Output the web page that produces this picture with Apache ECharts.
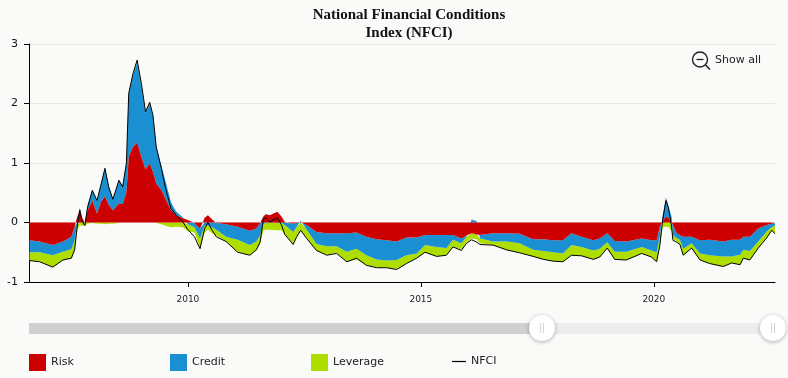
<!DOCTYPE html>
<html><head><meta charset="utf-8">
<style>html,body{margin:0;padding:0;background:#fafaf8}#c{width:788px;height:378px}</style>
<script src="https://cdn.jsdelivr.net/npm/echarts@6/dist/echarts.min.js"></script>
</head><body><div id="c"></div>
<script>
const years=[2006.60,2006.82,2007.10,2007.32,2007.50,2007.57,2007.62,2007.68,2007.73,2007.79,2007.85,2007.95,2008.05,2008.14,2008.22,2008.30,2008.39,2008.52,2008.60,2008.68,2008.73,2008.82,2008.91,2009.00,2009.09,2009.18,2009.25,2009.32,2009.43,2009.53,2009.64,2009.75,2009.89,2010.00,2010.14,2010.26,2010.36,2010.43,2010.52,2010.61,2010.82,2011.07,2011.33,2011.47,2011.55,2011.62,2011.67,2011.76,2011.92,2012.01,2012.08,2012.26,2012.33,2012.42,2012.55,2012.76,2012.98,2013.19,2013.41,2013.62,2013.83,2014.05,2014.26,2014.48,2014.69,2014.91,2015.09,2015.34,2015.55,2015.69,2015.87,2015.98,2016.09,2016.20,2016.27,2016.55,2016.84,2017.12,2017.41,2017.63,2017.84,2018.05,2018.23,2018.45,2018.70,2018.84,2019.00,2019.16,2019.41,2019.74,2019.95,2020.06,2020.13,2020.19,2020.26,2020.31,2020.38,2020.41,2020.49,2020.56,2020.63,2020.81,2020.99,2021.20,2021.49,2021.67,2021.85,2021.92,2022.06,2022.24,2022.42,2022.53,2022.60];
const risk=[-.30,-.32,-.38,-.32,-.24,-.07,.08,.21,.08,-.01,.2,.37,.15,.35,.44,.3,.2,.32,.31,.5,1.1,1.27,1.34,1.1,.89,.99,.85,.65,.54,.38,.2,.12,.07,.04,-.01,-.1,.08,.12,.05,-.01,-.03,-.07,-.14,-.1,-.01,.1,.14,.12,.18,.1,.01,-.02,-.01,.01,-.04,-.16,-.18,-.18,-.18,-.17,-.24,-.28,-.3,-.32,-.25,-.25,-.21,-.21,-.21,-.21,-.27,-.22,-.18,-.2,-.21,-.18,-.18,-.19,-.28,-.28,-.3,-.3,-.18,-.24,-.3,-.27,-.18,-.31,-.32,-.27,-.3,-.3,-.07,.02,.1,.08,.01,-.04,-.18,-.21,-.24,-.24,-.3,-.29,-.32,-.29,-.29,-.24,-.24,-.1,-.04,-.02,-.01];
const credit=[-.2,-.18,-.17,-.17,-.21,-.22,-.05,.04,.01,.01,.1,.18,.21,.3,.47,.32,.19,.39,.3,.5,1.07,1.2,1.35,1.2,.95,1,.95,.62,.42,.28,.13,.06,.02,-.03,-.07,-.17,-.05,-.05,-.08,-.11,-.21,-.22,-.24,-.22,-.21,-.03,-.01,-.01,-.01,-.01,-.04,-.14,-.07,.02,-.08,-.2,-.22,-.22,-.31,-.27,-.31,-.34,-.34,-.31,-.3,-.27,-.17,-.2,-.22,-.08,-.08,-.02,.05,.02,-.06,-.14,-.14,-.16,-.18,-.2,-.2,-.22,-.2,-.17,-.17,-.17,-.15,-.18,-.17,-.14,-.17,-.2,-.17,.1,.32,.2,.09,-.17,-.08,-.08,-.2,-.11,-.22,-.26,-.25,-.28,-.25,-.22,-.24,-.22,-.11,-.06,-.04];
const leverage=[-.14,-.15,-.2,-.14,-.15,-.17,-.1,-.04,-.06,-.04,-.02,-.01,-.02,-.02,-.03,-.02,-.02,-.01,.01,.01,.02,.03,.04,.04,.03,.03,0,-.01,-.03,-.06,-.08,-.07,-.08,-.12,-.09,-.16,-.12,-.07,-.1,-.1,-.08,-.2,-.17,-.14,-.14,-.11,-.11,-.11,-.12,-.12,-.16,-.2,-.17,-.13,-.14,-.12,-.14,-.11,-.17,-.18,-.17,-.13,-.12,-.15,-.14,-.08,-.12,-.16,-.11,-.11,-.11,-.09,-.09,-.08,-.08,-.06,-.14,-.16,-.11,-.14,-.15,-.14,-.17,-.15,-.15,-.14,-.1,-.13,-.14,-.11,-.11,-.16,-.15,-.08,-.07,-.07,-.15,-.06,-.06,-.08,-.11,-.08,-.11,-.14,-.17,-.11,-.17,-.14,-.15,-.11,-.11,-.06,-.14];
const nfci=[-.64,-.66,-.75,-.63,-.6,-.46,-.1,.21,.02,-.05,.26,.54,.37,.65,.91,.6,.39,.71,.6,1,2.17,2.5,2.73,2.34,1.86,2.02,1.8,1.27,.91,.54,.23,.12,.01,-.12,-.24,-.44,-.1,0,-.13,-.24,-.32,-.5,-.55,-.46,-.33,.05,.08,.01,.08,-.04,-.2,-.37,-.25,-.13,-.27,-.47,-.55,-.52,-.66,-.6,-.72,-.76,-.76,-.79,-.69,-.6,-.5,-.57,-.55,-.41,-.47,-.35,-.29,-.33,-.37,-.38,-.46,-.51,-.57,-.62,-.65,-.66,-.55,-.56,-.62,-.58,-.43,-.62,-.63,-.52,-.58,-.66,-.38,.04,.37,.26,-.06,-.3,-.33,-.37,-.55,-.43,-.63,-.69,-.74,-.68,-.71,-.6,-.63,-.43,-.26,-.13,-.19];
const xLabels=[2010,2015,2020];
const ts=y=>{const f=Math.floor(y);return Math.round(Date.UTC(f,0,1)+(y-f)*(Date.UTC(f+1,0,1)-Date.UTC(f,0,1)))};
const times=years.map(ts);
const zip=a=>times.map((t,i)=>[t,a[i]]);
const font='"DejaVu Sans",sans-serif';
const area=(name,data,color,z)=>({name,type:'line',stack:'nfci',z,data:zip(data),symbol:'none',smooth:false,
  itemStyle:{color},lineStyle:{width:0,color},areaStyle:{color,opacity:1},emphasis:{disabled:true}});
const leg=(name,left,top,w,h)=>({show:true,left,top,orient:'horizontal',padding:0,itemWidth:w,itemHeight:h,itemGap:4,icon:'rect',selectedMode:false,data:[name],
  textStyle:{fontFamily:font,fontSize:11,color:'#222',padding:[3,0,0,0]}});
const track=(x,w,c)=>({type:'rect',shape:{x,y:323,width:w,height:11},style:{fill:c},silent:true});
const handle=x=>[{type:'circle',shape:{cx:x,cy:328,r:13},style:{fill:'#fff',shadowBlur:4,shadowColor:'rgba(0,0,0,0.3)',shadowOffsetY:1},silent:true},
 {type:'rect',shape:{x:x-2,y:323,width:.6,height:10},style:{fill:'#bbb'},silent:true},
 {type:'rect',shape:{x:x+1,y:323,width:.6,height:10},style:{fill:'#bbb'},silent:true}];
const chart=echarts.init(document.getElementById('c'),null,{renderer:'canvas',useUTC:true});
chart.setOption({
  animation:false,backgroundColor:'#fafaf8',useUTC:true,
  title:{text:'National Financial Conditions\nIndex (NFCI)',left:404,textAlign:'center',top:1,
    textStyle:{fontFamily:'"Liberation Serif",serif',fontWeight:'bold',fontSize:15,lineHeight:18,color:'#111'}},
  grid:{left:29,right:13,top:44,bottom:96},
  legend:[leg('Risk',29,354,17,17),leg('Credit',170,354,17,17),leg('Leverage',311,354,17,17),leg('NFCI',452,356,14,1.2)],
  xAxis:[{type:'time',min:ts(2006.59),max:ts(2022.6),
    axisLine:{onZero:false,lineStyle:{color:'#000',width:1}},
    axisTick:{show:false},axisLabel:{show:false},splitLine:{show:false}},
   {type:'value',position:'bottom',min:2006.59,max:2022.6,
    axisLine:{show:false,onZero:false},
    axisTick:{show:true,length:5,lineStyle:{color:'#000'},customValues:xLabels},
    axisLabel:{customValues:xLabels,fontFamily:font,fontSize:9,color:'#222',margin:13,formatter:v=>String(v)},
    splitLine:{show:false}}],
  yAxis:{type:'value',min:-1,max:3,interval:1,
    axisLine:{show:true,onZero:false,lineStyle:{color:'#000',width:1}},
    axisTick:{show:true,length:5,lineStyle:{color:'#000'}},
    axisLabel:{fontFamily:font,fontSize:11,color:'#111',margin:11},
    splitLine:{show:true,lineStyle:{color:'#e8e8e6',width:1}}},
  series:[area('Risk',risk,'#cc0000',4),area('Credit',credit,'#1a8fd1',3),area('Leverage',leverage,'#aedd00',2),
    {name:'NFCI',type:'line',data:zip(nfci),symbol:'none',itemStyle:{color:'#000'},lineStyle:{color:'#000',width:1},z:5,emphasis:{disabled:true}}],
  graphic:[track(29,513,'#d0d0d0'),track(542,231,'#ededed'),...handle(542),...handle(773),
    {type:'circle',shape:{cx:700,cy:59.5,r:7.5},style:{fill:'none',stroke:'#222',lineWidth:1.4},silent:true},
    {type:'line',shape:{x1:696.5,y1:59.5,x2:703.5,y2:59.5},style:{stroke:'#222',lineWidth:1.3},silent:true},
    {type:'line',shape:{x1:705.5,y1:65,x2:710,y2:69.5},style:{stroke:'#222',lineWidth:1.6},silent:true},
    {type:'text',left:715,top:55,style:{text:'Show all',fontFamily:font,fontSize:11,fill:'#222'},silent:true}]
});
</script></body></html>
